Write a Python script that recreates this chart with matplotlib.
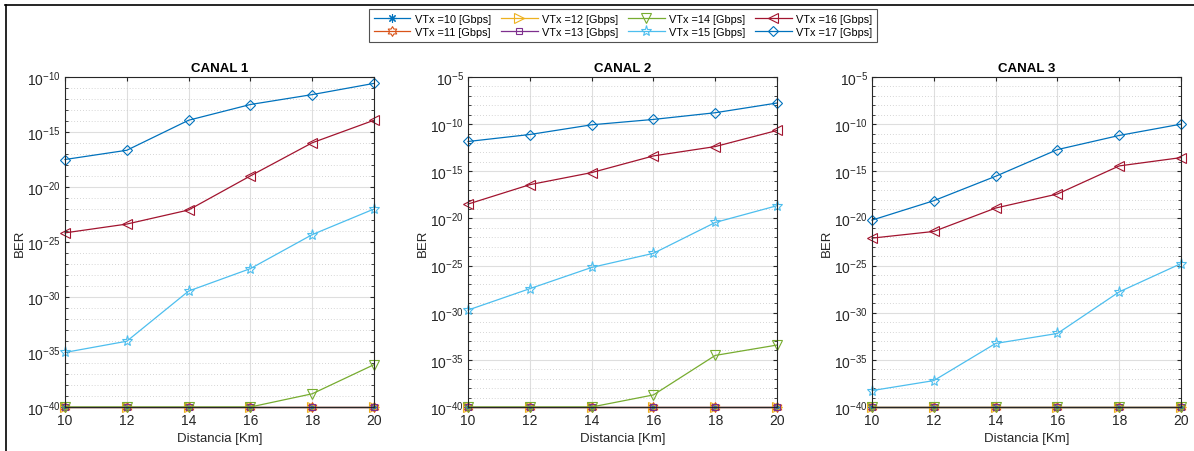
import numpy as np
import matplotlib
matplotlib.use('Agg')
from matplotlib import pyplot as plt
from matplotlib.ticker import FixedLocator, LogFormatterSciNotation, NullFormatter
from matplotlib.lines import Line2D
from matplotlib.path import Path

plt.rcParams['font.family'] = ['Liberation Sans', 'DejaVu Sans']
plt.rcParams['axes.unicode_minus'] = False
plt.rcParams['mathtext.fontset'] = 'custom'
plt.rcParams['mathtext.rm'] = 'Liberation Sans'
plt.rcParams['mathtext.it'] = 'Liberation Sans:italic'
plt.rcParams['mathtext.bf'] = 'Liberation Sans:bold'

distancia = [10, 12, 14, 16, 18, 20]
velocidades = [10, 11, 12, 13, 14, 15, 16, 17]
piso = 1e-40

# exponentes de BER (canal -> velocidad -> valores)
canal1_exp = {
    10: [-40, -40, -40, -40, -40, -40],
    11: [-40, -40, -40, -40, -40, -40],
    12: [-40, -40, -40, -40, -40, -40],
    13: [-40, -40, -40, -40, -40, -40],
    14: [-40, -40, -40, -40, -38.8, -36.15],
    15: [-35.04, -34.02, -29.46, -27.42, -24.33, -22.0],
    16: [-24.17, -23.37, -22.09, -18.99, -15.98, -13.93],
    17: [-17.5, -16.66, -13.93, -12.5, -11.6, -10.58],
}
canal2_exp = {
    10: [-40, -40, -40, -40, -40, -40],
    11: [-40, -40, -40, -40, -40, -40],
    12: [-40, -40, -40, -40, -40, -40],
    13: [-40, -40, -40, -40, -40, -40],
    14: [-40, -40, -40, -38.72, -34.53, -33.43],
    15: [-29.72, -27.45, -25.2, -23.7, -20.43, -18.65],
    16: [-18.48, -16.42, -15.14, -13.37, -12.38, -10.67],
    17: [-11.84, -11.1, -10.07, -9.5, -8.79, -7.76],
}
canal3_exp = {
    10: [-40, -40, -40, -40, -40, -40],
    11: [-40, -40, -40, -40, -40, -40],
    12: [-40, -40, -40, -40, -40, -40],
    13: [-40, -40, -40, -40, -40, -40],
    14: [-40, -40, -40, -40, -40, -40],
    15: [-38.26, -37.2, -33.26, -32.2, -27.79, -24.79],
    16: [-22.09, -21.38, -18.9, -17.41, -14.43, -13.55],
    17: [-20.18, -18.12, -15.53, -12.7, -11.2, -10.0],
}
canales = [('CANAL 1', canal1_exp, -10), ('CANAL 2', canal2_exp, -5), ('CANAL 3', canal3_exp, -5)]

# hexagrama estilo matlab
ang = np.pi / 2 + np.arange(12) * np.pi / 6
rad = np.where(np.arange(12) % 2 == 0, 1.0, 1 / np.sqrt(3))
verts = np.column_stack([rad * np.cos(ang), rad * np.sin(ang)])
verts = np.vstack([verts, verts[:1]])
hexagrama = Path(verts, [Path.MOVETO] + [Path.LINETO] * 11 + [Path.CLOSEPOLY])

colores = {10: '#0072BD', 11: '#D95319', 12: '#EDB120', 13: '#7E2F8E',
           14: '#77AC30', 15: '#4DBEEE', 16: '#A2142F', 17: '#0072BD'}
marcadores = {10: (8, 2, 0), 11: hexagrama, 12: '>', 13: 's', 14: 'v', 15: '*', 16: '<', 17: 'D'}
tamanos = {10: 6, 11: 7, 12: 6.5, 13: 5, 14: 6.5, 15: 8, 16: 6.5, 17: 5.5}

eje_color = '#262626'

fig = plt.figure(figsize=(11.94, 4.52), dpi=100)
lefts = [65, 468, 872]
handles = []
for (titulo, datos, ytop), left in zip(canales, lefts):
    ax = fig.add_axes([left / 1194, 1 - 408 / 452, 309 / 1194, 330 / 452])
    for v in velocidades:
        y = 10.0 ** np.array(datos[v])
        h, = ax.plot(distancia, y, color=colores[v], lw=0.9, marker=marcadores[v],
                     markersize=tamanos[v], markerfacecolor='none',
                     markeredgecolor=colores[v], markeredgewidth=0.8,
                     label='VTx =%d [Gbps]' % v, clip_on=False)
        if left == lefts[0]:
            handles.append(h)
    ax.set_yscale('log')
    ax.set_xlim(10, 20)
    ax.set_ylim(piso, 10.0 ** ytop)
    ax.set_xticks(distancia)
    ax.yaxis.set_major_locator(FixedLocator(10.0 ** np.arange(-40, ytop + 1, 5)))
    ax.yaxis.set_minor_locator(FixedLocator(10.0 ** np.arange(-40, ytop + 1, 1)))
    ax.yaxis.set_major_formatter(LogFormatterSciNotation())
    ax.yaxis.set_minor_formatter(NullFormatter())
    ax.grid(True, which='major', color='#dedede', lw=0.8, ls='-')
    ax.grid(True, which='minor', axis='y', color='#c8c8c8', lw=0.6, ls=(0, (1, 2.5)))
    ax.set_axisbelow(True)
    ax.tick_params(which='both', direction='in', top=True, right=True,
                   colors=eje_color, labelsize=10, length=3, pad=4)
    ax.tick_params(axis='y', which='both', pad=3)
    ax.tick_params(which='minor', length=2)
    for s in ax.spines.values():
        s.set_color(eje_color)
        s.set_linewidth(0.8)
    ax.set_title(titulo, fontsize=9.5, fontweight='bold', color='black', pad=4)
    ax.set_xlabel('Distancia [Km]', fontsize=9.5, color=eje_color, labelpad=4)
    ax.set_ylabel('BER', fontsize=9.5, color=eje_color, labelpad=1)

leg = fig.legend(handles=handles, loc='upper center', bbox_to_anchor=(623 / 1194, 1 - 10 / 452),
                 ncol=4, fontsize=7.8, frameon=True, fancybox=False, edgecolor=eje_color,
                 handlelength=3.4, handletextpad=0.4, columnspacing=0.9, labelspacing=0.3,
                 borderpad=0.45, borderaxespad=0)
leg.get_frame().set_linewidth(0.8)

# bordes de la figura (arriba e izquierda)
fig.add_artist(Line2D([5 / 1194, 1], [1 - 6 / 452, 1 - 6 / 452], color='black', lw=1.2))
fig.add_artist(Line2D([6 / 1194, 6 / 1194], [0, 1 - 6 / 452], color='black', lw=1.2))

fig.savefig('out.png', dpi=100, facecolor='white')
